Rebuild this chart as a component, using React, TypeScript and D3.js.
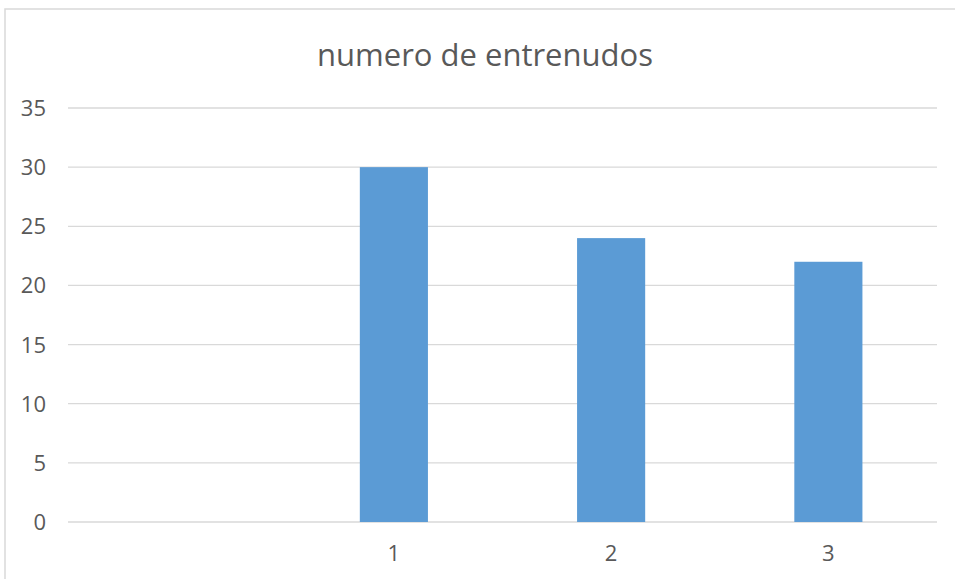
import React from "react";
import * as d3 from "d3";

const categories = ["", "1", "2", "3"];
const values: (number | null)[] = [null, 30, 24, 22];
const yTicks = [0, 5, 10, 15, 20, 25, 30, 35];
const title = "numero de entrenudos";

export default function App() {
  const W = 955, H = 579;
  const left = 68, right = 937, top = 108, bottom = 522;
  const x = d3.scaleBand<string>().domain(categories).range([left, right]).paddingInner(0.6865).paddingOuter(0.34325);
  const y = d3.scaleLinear().domain([0, 35]).range([bottom, top]);
  const band = d3.scaleBand<string>().domain(categories).range([left, right]);
  return (
    <svg width={W} height={H} style={{ position: "absolute", left: 0, top: 0, background: "#fff" }}
      fontFamily="'Open Sans', Carlito, Calibri, sans-serif">
      <rect x={5} y={9} width={W + 10} height={H + 10} fill="#fff" stroke="#d9d9d9" strokeWidth={1.5} />
      <text x={485} y={66} textAnchor="middle" fontSize={31} fill="#595959">{title}</text>
      {yTicks.map(t => (
        <g key={t}>
          <line x1={left} x2={right} y1={y(t)} y2={y(t)} stroke="#d9d9d9" strokeWidth={1.3} />
          <text x={46} y={y(t) + 8} textAnchor="end" fontSize={22} fill="#595959">{t}</text>
        </g>
      ))}
      {categories.map((c, i) => values[i] == null ? null : (
        <rect key={c} x={x(c)!} width={x.bandwidth()} y={y(values[i]!)} height={y(0) - y(values[i]!)} fill="#5b9bd5" />
      ))}
      {categories.map(c => (
        <text key={"l" + c} x={band(c)! + band.bandwidth() / 2} y={561} textAnchor="middle" fontSize={22} fill="#595959">{c}</text>
      ))}
    </svg>
  );
}
